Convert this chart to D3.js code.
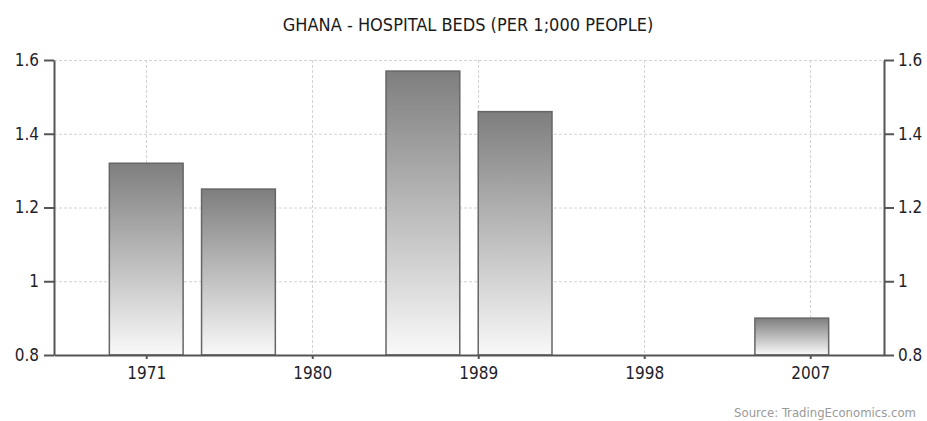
<!DOCTYPE html>
<html><head><meta charset="utf-8">
<script src="https://cdn.jsdelivr.net/npm/d3@7"></script>
<style>body{margin:0;background:#fff}svg{display:block}</style>
</head><body>
<script>
const title = "GHANA - HOSPITAL BEDS (PER 1;000 PEOPLE)";
const years = [1971, 1976, 1986, 1991, 2006];
const values = [1.32, 1.25, 1.57, 1.46, 0.90];
const xTicks = [1971, 1980, 1989, 1998, 2007];
const yTicks = [0.8, 1.0, 1.2, 1.4, 1.6];
const source = "Source: TradingEconomics.com";

const W = 927, H = 421;
const m = {left: 54, right: 43, top: 60, bottom: 66};
const font = "'DejaVu Sans Condensed', 'DejaVu Sans', sans-serif";

const svg = d3.select("body").append("svg").attr("width", W).attr("height", H);
const defs = svg.append("defs");
const grad = defs.append("linearGradient").attr("id", "barGrad")
  .attr("x1", 0).attr("y1", 0).attr("x2", 0).attr("y2", 1);
grad.append("stop").attr("offset", "0%").attr("stop-color", "#7e7e7e");
grad.append("stop").attr("offset", "100%").attr("stop-color", "#f9f9f9");

const x = d3.scaleLinear().domain([1966, 2011]).range([m.left, W - m.right]);
const y = d3.scaleLinear().domain([0.8, 1.6]).range([H - m.bottom, m.top]);

// grid
const grid = svg.append("g");
grid.selectAll("line.h").data(yTicks.slice(1)).join("line")
  .attr("x1", m.left).attr("x2", W - m.right)
  .attr("y1", d => y(d) + 0.5).attr("y2", d => y(d) + 0.5)
  .attr("stroke", "#d2d2d2").attr("stroke-dasharray", "3,2");
grid.selectAll("line.v").data(xTicks).join("line")
  .attr("x1", d => Math.round(x(d)) + 0.5).attr("x2", d => Math.round(x(d)) + 0.5)
  .attr("y1", m.top).attr("y2", H - m.bottom)
  .attr("stroke", "#d2d2d2").attr("stroke-dasharray", "3,2");

// bars
const bw = x(1970) - x(1966); // 4-year wide bars
svg.append("g").selectAll("rect").data(years).join("rect")
  .attr("x", (d) => x(d) - bw / 2)
  .attr("width", bw)
  .attr("y", (d, i) => y(values[i]))
  .attr("height", (d, i) => y(0.8) - y(values[i]))
  .attr("fill", "url(#barGrad)")
  .attr("stroke", "#666").attr("stroke-width", 1.5);

// axes
const axisColor = "#555";
const xAxis = svg.append("g").attr("transform", `translate(0,${H - m.bottom})`)
  .call(d3.axisBottom(x).tickValues(xTicks).tickFormat(d3.format("d")).tickSize(4).tickSizeOuter(0).tickPadding(8));
const yAxisL = svg.append("g").attr("transform", `translate(${m.left},0)`)
  .call(d3.axisLeft(y).tickValues(yTicks).tickFormat(d => d === 1 ? "1" : d3.format(".1f")(d)).tickSize(10).tickSizeOuter(0).tickPadding(5));
const yAxisR = svg.append("g").attr("transform", `translate(${W - m.right},0)`)
  .call(d3.axisRight(y).tickValues(yTicks).tickFormat(d => d === 1 ? "1" : d3.format(".1f")(d)).tickSize(10).tickSizeOuter(0).tickPadding(4));
[xAxis, yAxisL, yAxisR].forEach(g => {
  g.select(".domain").attr("stroke", axisColor).attr("stroke-width", 2);
  g.selectAll(".tick line").attr("stroke", axisColor).attr("stroke-width", 2);
  g.selectAll("text").attr("font-family", font).attr("font-size", 17).attr("fill", "#1e1e2a");
});

svg.append("text").attr("x", 468).attr("y", 31).attr("text-anchor", "middle")
  .attr("font-family", font).attr("font-size", 18).attr("font-weight", 500)
  .attr("fill", "#1a1a1a").text(title);
svg.append("text").attr("x", 916).attr("y", 417).attr("text-anchor", "end")
  .attr("font-family", font).attr("font-size", 13).attr("fill", "#999").text(source);
</script>
</body></html>
